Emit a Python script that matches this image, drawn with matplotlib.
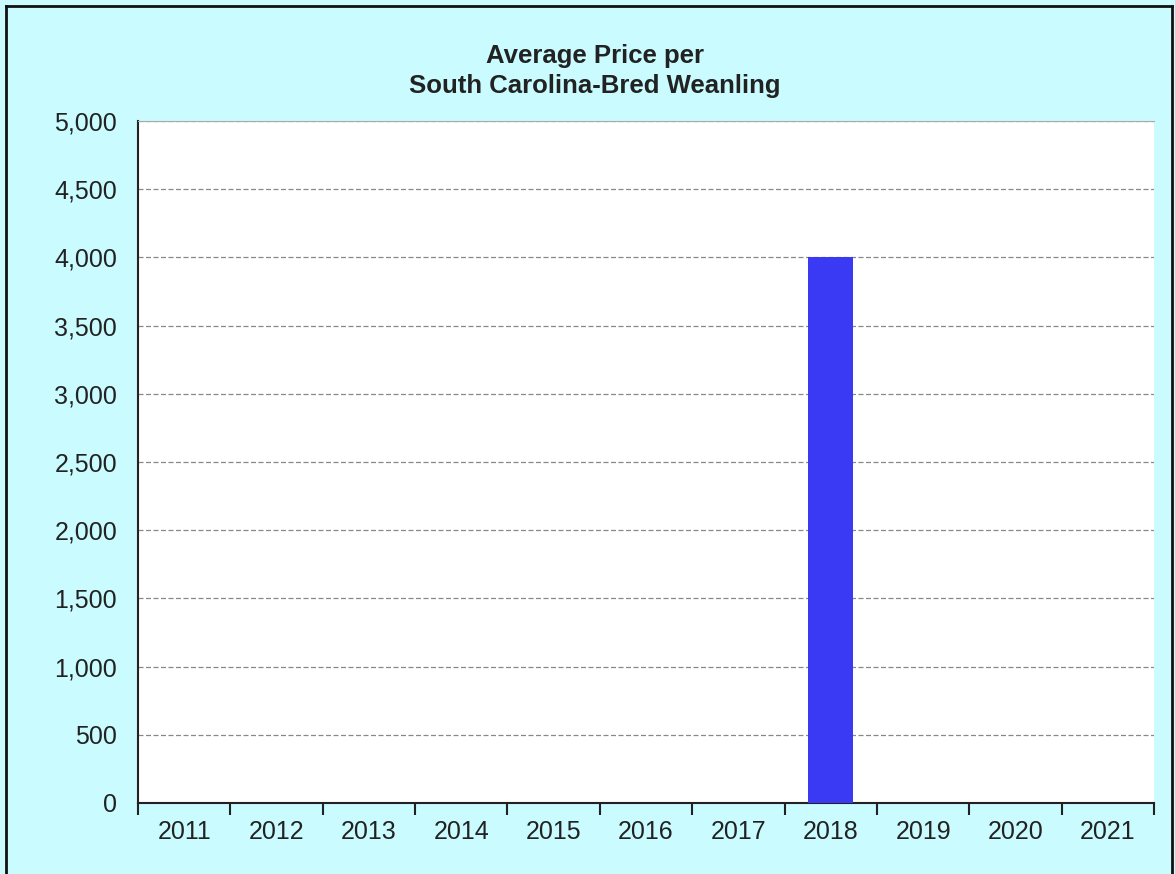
import numpy as np
import matplotlib
matplotlib.use("Agg")
import matplotlib.pyplot as plt
from matplotlib.ticker import FuncFormatter, FixedLocator

plt.rcParams['font.family'] = ['Liberation Sans', 'DejaVu Sans']

years = ['2011', '2012', '2013', '2014', '2015', '2016', '2017', '2018', '2019', '2020', '2021']
prices = [0, 0, 0, 0, 0, 0, 0, 4000, 0, 0, 0]

bg = '#c9fbff'
fig = plt.figure(figsize=(11.75, 8.74), dpi=100, facecolor=bg)
ax = fig.add_axes([138/1175, 1 - 803/874, (1154 - 138)/1175, (803 - 121)/874])
ax.set_facecolor('white')

x = np.arange(len(years))
ax.bar(x, prices, width=0.49, color='#3a3af5', zorder=3)

ax.set_xlim(-0.5, len(years) - 0.5)
ax.set_ylim(0, 5000)
ax.set_yticks(np.arange(0, 5001, 500))
ax.yaxis.set_major_formatter(FuncFormatter(lambda v, p: f'{int(v):,}'))
ax.grid(axis='y', linestyle=(0, (4, 2)), color='#888888', linewidth=0.9, zorder=1)

ax.set_xticks(x)
ax.set_xticklabels(years)
ax.xaxis.set_minor_locator(FixedLocator(np.arange(-0.5, len(years), 1.0)))
ax.tick_params(axis='x', which='major', length=0, pad=12, labelsize=18, labelcolor='#222222')
ax.tick_params(axis='x', which='minor', length=8.5, width=1.5, color='#222222')
ax.tick_params(axis='y', length=0, pad=15, labelsize=18, labelcolor='#222222')

ax.spines['right'].set_visible(False)
ax.spines['top'].set_color('#aaaaaa')
ax.spines['left'].set_color('#222222')
ax.spines['bottom'].set_color('#222222')
ax.spines['left'].set_linewidth(1.5)
ax.spines['bottom'].set_linewidth(1.5)

fig.text(595/1175, 1 - 63/874, 'Average Price per', ha='center', va='baseline',
         fontsize=18.5, fontweight='bold', color='#222222')
fig.text(595/1175, 1 - 93/874, 'South Carolina-Bred Weanling', ha='center', va='baseline',
         fontsize=18.5, fontweight='bold', color='#222222')

# outer frame
fig.add_artist(plt.Line2D([6/1175, 6/1175], [0, 1 - 6/874], color='#111111', lw=2))
fig.add_artist(plt.Line2D([6/1175, 1172/1175], [1 - 6/874, 1 - 6/874], color='#111111', lw=2))
fig.add_artist(plt.Line2D([1172/1175, 1172/1175], [0, 1 - 6/874], color='#111111', lw=2))

plt.savefig('out.png', dpi=100, facecolor=bg)
plt.close()
